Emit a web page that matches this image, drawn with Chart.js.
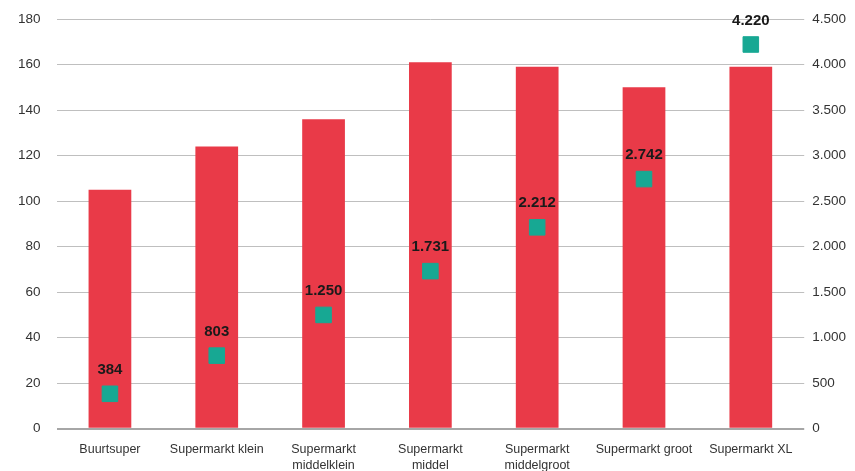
<!DOCTYPE html>
<html lang="nl">
<head>
<meta charset="UTF-8">
<title>Supermarkten</title>
<script src="https://cdn.jsdelivr.net/npm/chart.js"></script>
<style>
    html, body { margin: 0; padding: 0; background: #fff; }
    .wrap { width: 855px; height: 471px; }
</style>
</head>
<body>
<div class="wrap"><canvas id="chart"></canvas></div>
<script>
const categories = [
    "Buurtsuper",
    "Supermarkt klein",
    ["Supermarkt", "middelklein"],
    ["Supermarkt", "middel"],
    ["Supermarkt", "middelgroot"],
    "Supermarkt groot",
    "Supermarkt XL"
];
const barValues = [105, 124, 136, 161, 159, 150, 159];
const pointValues = [384, 803, 1250, 1731, 2212, 2742, 4220];

const fmt = v => v.toLocaleString("nl-NL");
const FONT = "'Liberation Sans', Arial, sans-serif";

const pointLabels = {
    id: "pointLabels",
    afterDatasetsDraw(chart) {
        const ctx = chart.ctx;
        const meta = chart.getDatasetMeta(0);
        ctx.save();
        ctx.font = "bold 15px " + FONT;
        ctx.fillStyle = "#1a1a1a";
        ctx.textAlign = "center";
        ctx.textBaseline = "middle";
        meta.data.forEach((pt, i) => {
            ctx.fillText(fmt(pointValues[i]), pt.x, pt.y - 24);
        });
        ctx.restore();
    }
};

new Chart(document.getElementById("chart"), {
    data: {
        labels: categories,
        datasets: [
            {
                type: "line",
                data: pointValues,
                yAxisID: "y2",
                showLine: false,
                pointStyle: "rect",
                pointRadius: 11,
                pointHoverRadius: 11,
                pointBackgroundColor: "#17a893",
                pointBorderColor: "#17a893",
                order: 0
            },
            {
                type: "bar",
                data: barValues,
                yAxisID: "y",
                backgroundColor: "#e93a48",
                barPercentage: 0.4,
                categoryPercentage: 1,
                order: 1
            }
        ]
    },
    options: {
        responsive: true,
        maintainAspectRatio: false,
        animation: false,
        layout: { autoPadding: false, padding: { left: 2, right: 1, top: 19, bottom: -7 } },
        plugins: {
            legend: { display: false },
            tooltip: { enabled: false }
        },
        scales: {
            x: {
                grid: { display: false },
                border: { display: false },
                ticks: {
                    maxRotation: 0,
                    autoSkip: false,
                    padding: 5,
                    color: "#333",
                    font: { family: FONT, size: 12.5, lineHeight: 1.25 }
                }
            },
            y: {
                position: "left",
                min: 0,
                max: 180,
                afterFit: s => { s.paddingTop = 10; },
                grid: {
                    color: ctx => ctx.tick.value === 0 ? "#a6a6a6" : "#bfbfbf",
                    lineWidth: ctx => ctx.tick.value === 0 ? 2 : 1,
                    drawTicks: false
                },
                border: { display: false },
                ticks: {
                    stepSize: 20,
                    padding: 16,
                    color: "#333",
                    font: { family: FONT, size: 13.5 }
                }
            },
            y2: {
                position: "right",
                min: 0,
                max: 4500,
                afterFit: s => { s.paddingTop = 10; },
                grid: { display: false, drawTicks: false },
                border: { display: false },
                ticks: {
                    stepSize: 500,
                    padding: 8,
                    color: "#333",
                    font: { family: FONT, size: 13.5 },
                    callback: v => fmt(v)
                }
            }
        }
    },
    plugins: [pointLabels]
});
</script>
</body>
</html>
